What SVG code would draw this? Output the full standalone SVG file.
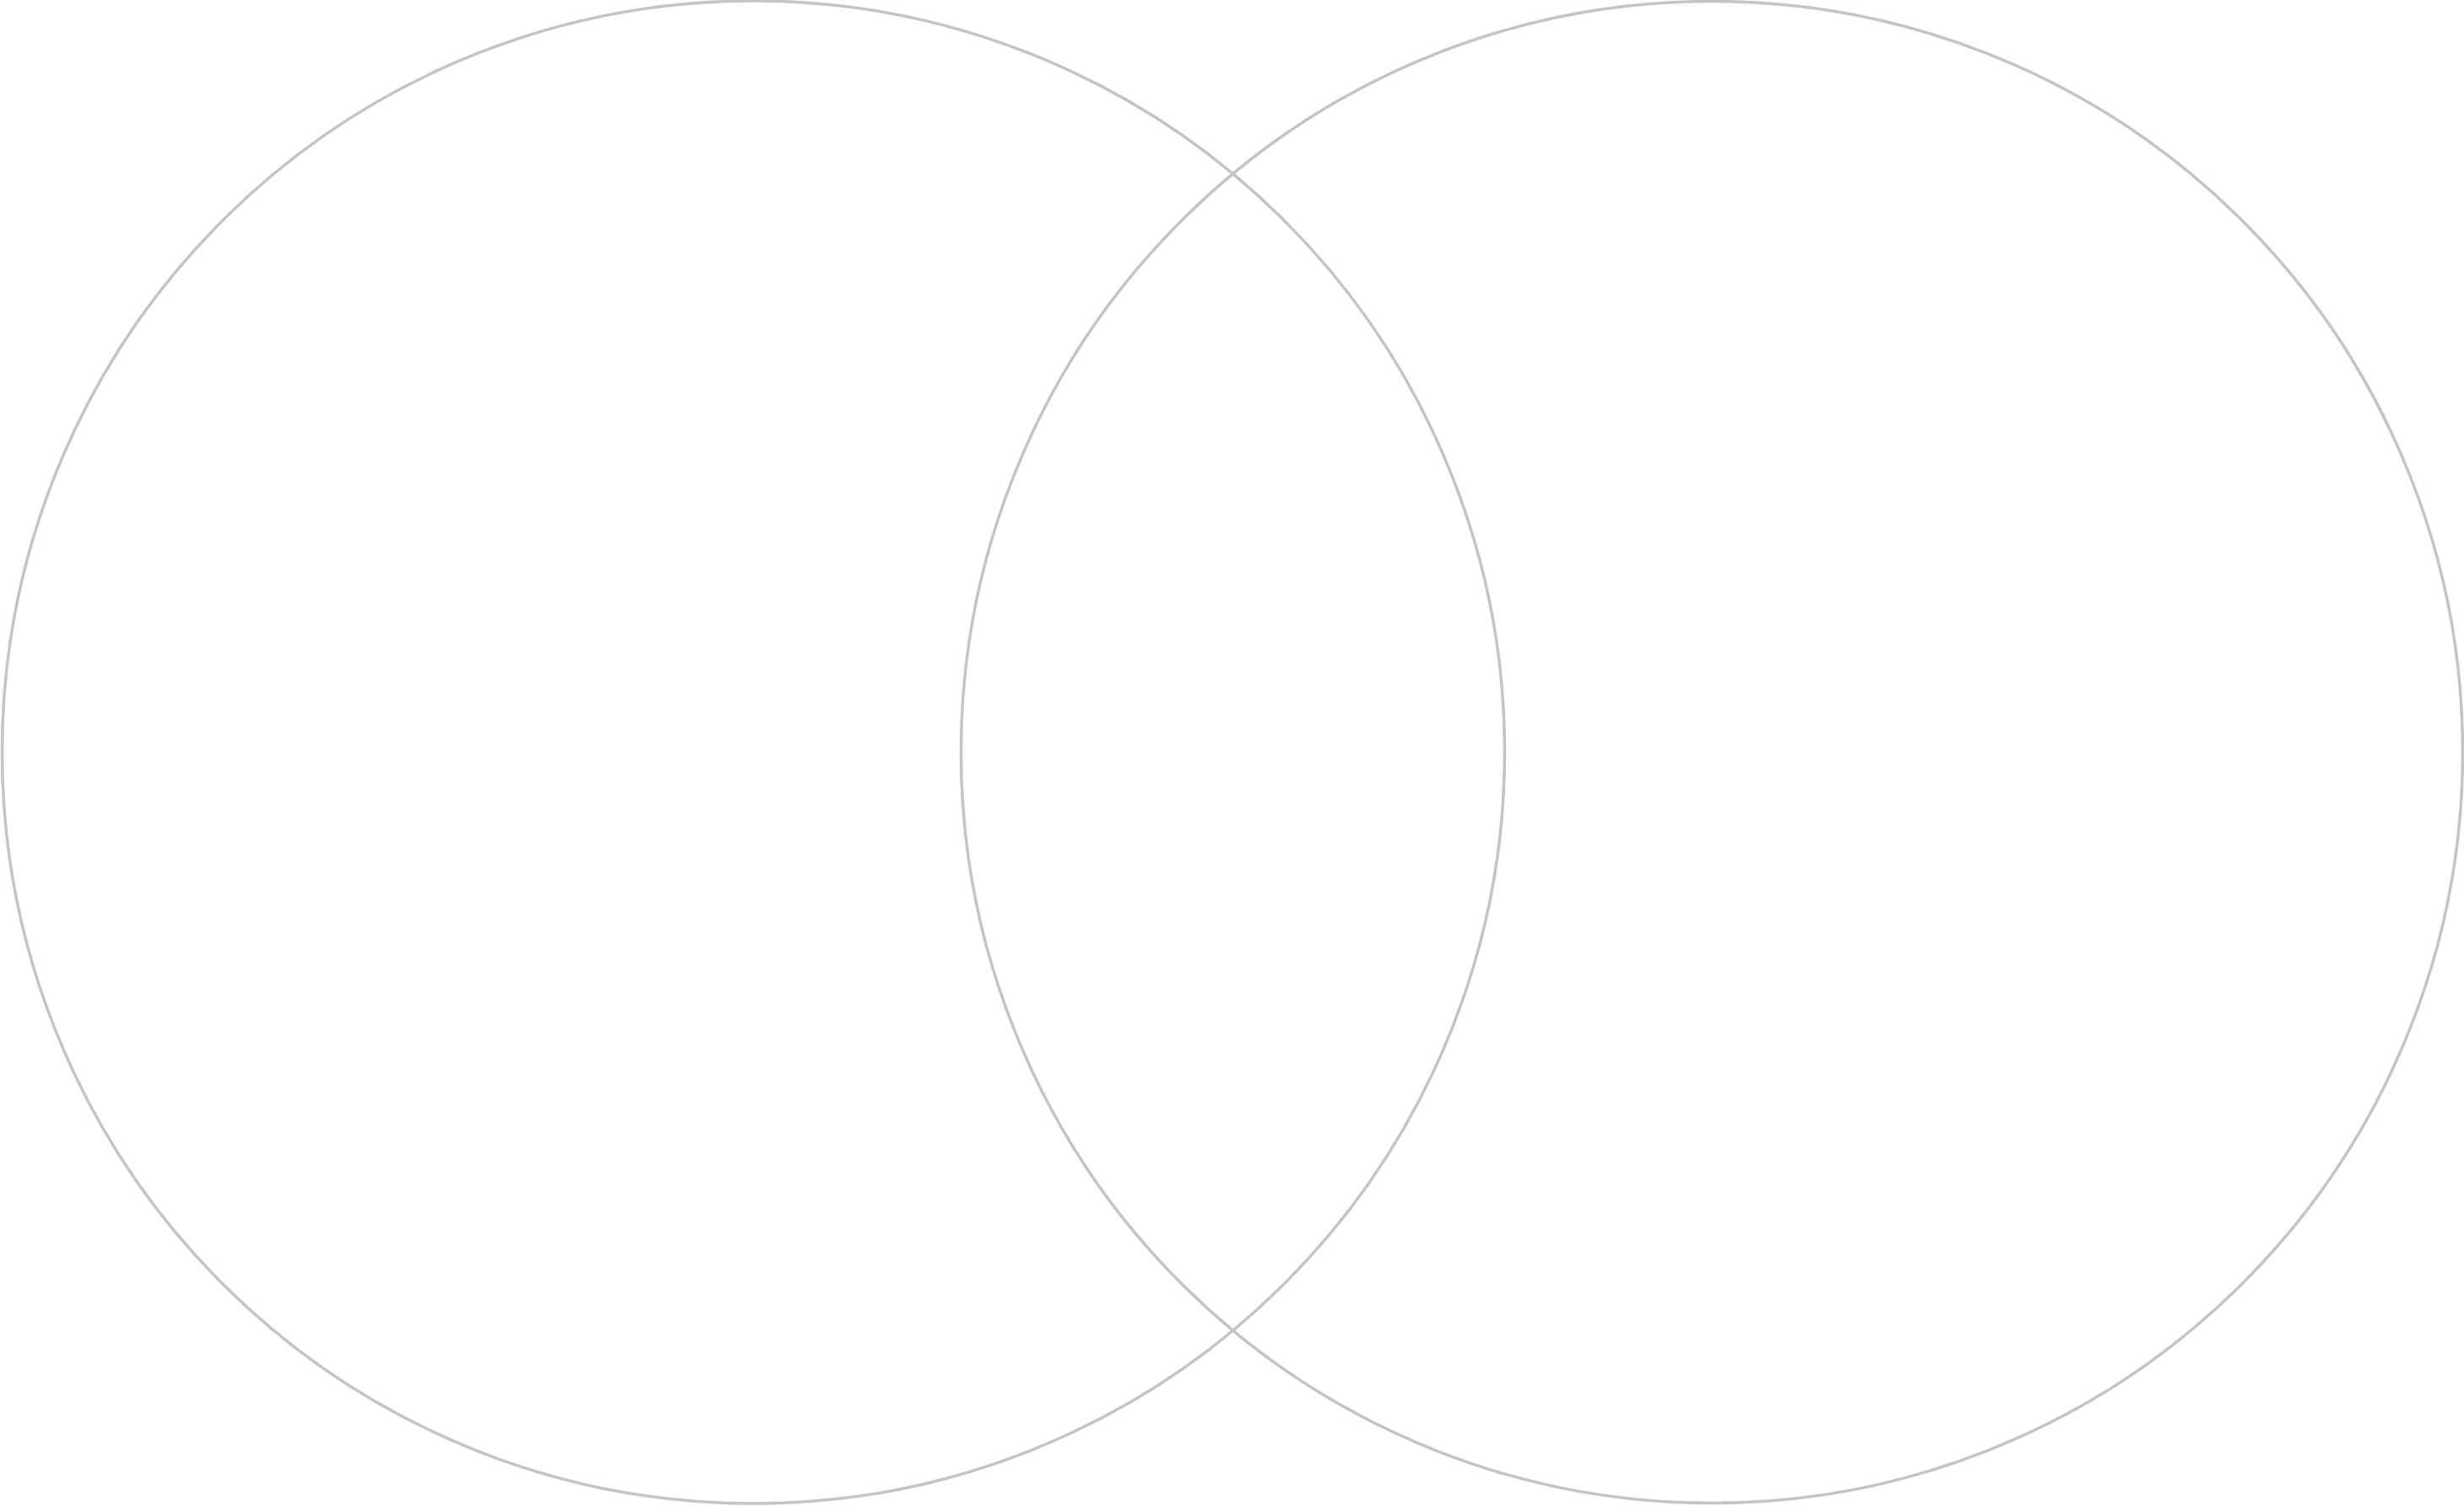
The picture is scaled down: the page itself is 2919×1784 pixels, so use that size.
<svg xmlns="http://www.w3.org/2000/svg" width="2919" height="1784" viewBox="0 0 2919 1784">
<style>
.c{fill:none;stroke:#c4c4c4;stroke-width:3.5}
</style>
<rect width="2919" height="1784" fill="#ffffff"/>
<g id="circle-left"><circle class="c" cx="892.5" cy="891" r="890"/></g>
<g id="circle-right"><circle class="c" cx="2028" cy="891" r="889.5"/></g>
</svg>
